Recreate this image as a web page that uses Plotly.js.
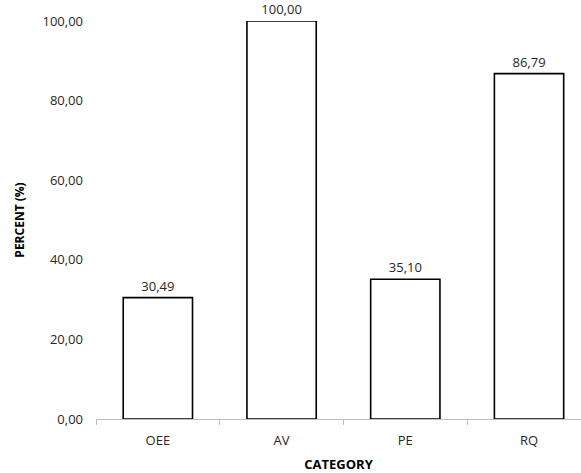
<!DOCTYPE html>
<html>
<head>
<meta charset="utf-8">
<script src="https://cdn.plot.ly/plotly-3.0.1.min.js"></script>
<style>html,body{margin:0;padding:0;background:#fff;}#chart{width:581px;height:473px;}</style>
</head>
<body>
<div id="chart"></div>
<script>
const categories = ["OEE", "AV", "PE", "RQ"];
const percentValues = [30.49, 100.00, 35.10, 86.79];
const yTickValues = [0, 20, 40, 60, 80, 100];

const trace = {
  type: "bar",
  x: categories,
  y: percentValues,
  marker: { color: "#ffffff", line: { color: "#000000", width: 1.6 } },
  texttemplate: "%{y:.2f}",
  textposition: "outside",
  cliponaxis: false,
  textfont: { family: "Open Sans, sans-serif", size: 13, color: "#262626" },
  hoverinfo: "none"
};

const layout = {
  width: 581, height: 473,
  margin: { l: 96, r: 0, t: 21, b: 54 },
  paper_bgcolor: "#ffffff", plot_bgcolor: "#ffffff",
  separators: ",.",
  bargap: 0.44,
  showlegend: false,
  font: { family: "Open Sans, sans-serif", size: 13, color: "#262626" },
  xaxis: {
    type: "category",
    range: [-0.5, 3.42],
    showline: true, linecolor: "#bfbfbf", linewidth: 1,
    ticks: "outside", tickson: "boundaries", ticklen: 5, tickcolor: "#bfbfbf",
    showgrid: false, zeroline: false,
    ticklabelstandoff: 9,
    tickfont: { size: 13, color: "#262626" },
    automargin: false,
    title: { text: "CATEGORY", font: { size: 13, color: "#000000", family: "Open Sans, sans-serif", weight: "bold" }, standoff: 13 }
  },
  yaxis: {
    range: [0, 100],
    tickvals: yTickValues,
    tickformat: ".2f",
    showline: false, showgrid: false, zeroline: false,
    ticks: "", ticklabelstandoff: 12,
    tickfont: { size: 13, color: "#262626" },
    automargin: false,
    title: { text: "PERCENT (%)", font: { size: 12, color: "#000000", family: "Open Sans, sans-serif", weight: "bold" }, standoff: 15 }
  }
};

Plotly.newPlot("chart", [trace], layout, { displayModeBar: false, staticPlot: true });
</script>
</body>
</html>
